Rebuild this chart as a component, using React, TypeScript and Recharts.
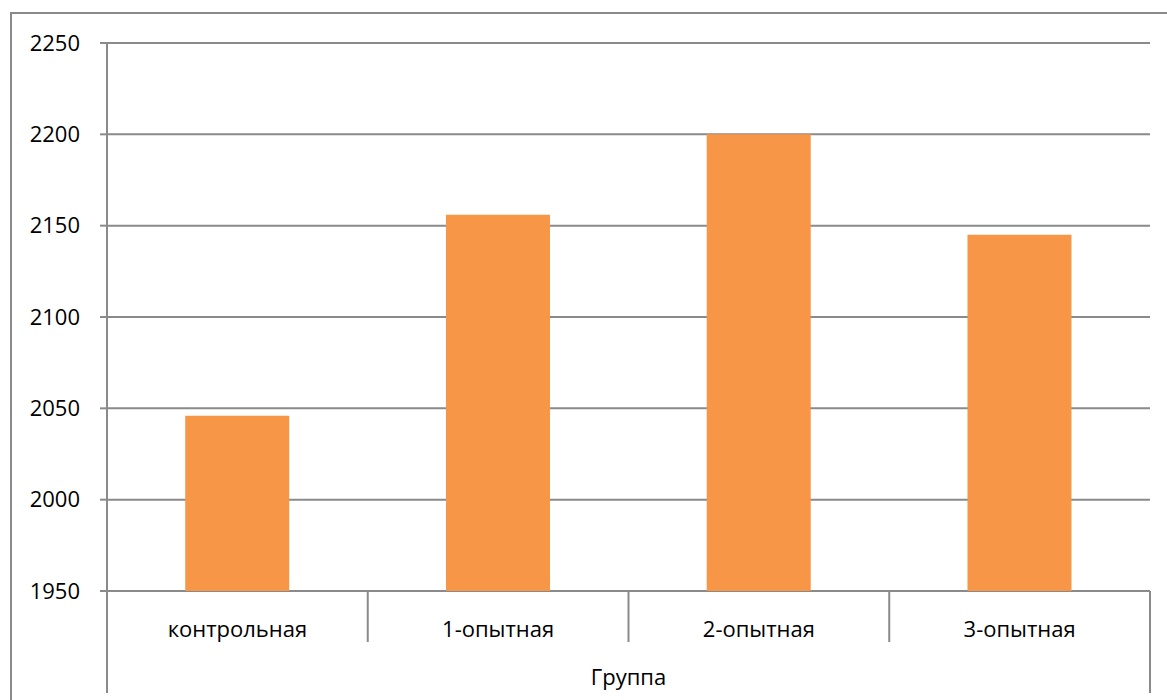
import React from "react";
import { BarChart, Bar, XAxis, YAxis, CartesianGrid } from "recharts";

const categories = ["контрольная", "1-опытная", "2-опытная", "3-опытная"];
const values = [2046, 2156, 2200, 2145];
const yTicks = [1950, 2000, 2050, 2100, 2150, 2200, 2250];
const axisTitle = "Группа";

const W = 1167;
const H = 700;
const TOP = 43;
const LEFT = 107;
const RIGHT = 17;
const X_AXIS_H = 109;
const PLOT_BOTTOM = H - X_AXIS_H;
const BAND = (W - LEFT - RIGHT) / categories.length;
const LINE = "#8a8a8a";
const FONT = "'Open Sans', sans-serif";

const data = categories.map((name, i) => ({ name, value: values[i] }));

// category label plus the box lines of the two-level category axis
const CategoryTick = ({ x, payload, index }: any) => {
  const half = BAND / 2;
  const last = index === categories.length - 1;
  return (
    <g>
      {index === 0 && (
        <line x1={x - half} x2={x - half} y1={PLOT_BOTTOM} y2={H - 7} stroke={LINE} strokeWidth={2} />
      )}
      <line
        x1={x + half}
        x2={x + half}
        y1={PLOT_BOTTOM}
        y2={last ? H - 7 : PLOT_BOTTOM + 51}
        stroke={LINE}
        strokeWidth={2}
      />
      <text x={x} y={PLOT_BOTTOM + 37} textAnchor="middle" dominantBaseline="central" fill="#000" fontSize={22} fontFamily={FONT}>
        {payload.value}
      </text>
    </g>
  );
};

export default function App() {
  return (
    <div style={{ position: "absolute", left: 0, top: 0, width: W, height: H, background: "#fff", fontFamily: FONT }}>
      <div
        style={{
          position: "absolute",
          left: 10,
          top: 12,
          right: 0,
          bottom: 0,
          borderLeft: `2px solid ${LINE}`,
          borderTop: `2px solid ${LINE}`,
        }}
      />
      <div style={{ position: "absolute", left: 0, top: 0 }}>
        <BarChart width={W} height={H} data={data} margin={{ top: TOP, right: RIGHT, bottom: 0, left: 0 }} barCategoryGap="30%">
          <CartesianGrid vertical={false} stroke={LINE} strokeWidth={2} />
          <XAxis
            dataKey="name"
            height={X_AXIS_H}
            axisLine={false}
            tickLine={false}
            interval={0}
            tick={<CategoryTick />}
            label={{ value: axisTitle, position: "insideBottom", offset: 15, fill: "#000", fontSize: 22, fontFamily: FONT }}
          />
          <YAxis
            width={LEFT}
            domain={[1950, 2250]}
            ticks={yTicks}
            interval={0}
            axisLine={{ stroke: LINE, strokeWidth: 2 }}
            tickLine={{ stroke: LINE, strokeWidth: 2 }}
            tickSize={7}
            tickMargin={20}
            tick={{ fill: "#000", fontSize: 22, fontFamily: FONT }}
          />
          <Bar dataKey="value" fill="#F79646" isAnimationActive={false} />
        </BarChart>
      </div>
    </div>
  );
}
